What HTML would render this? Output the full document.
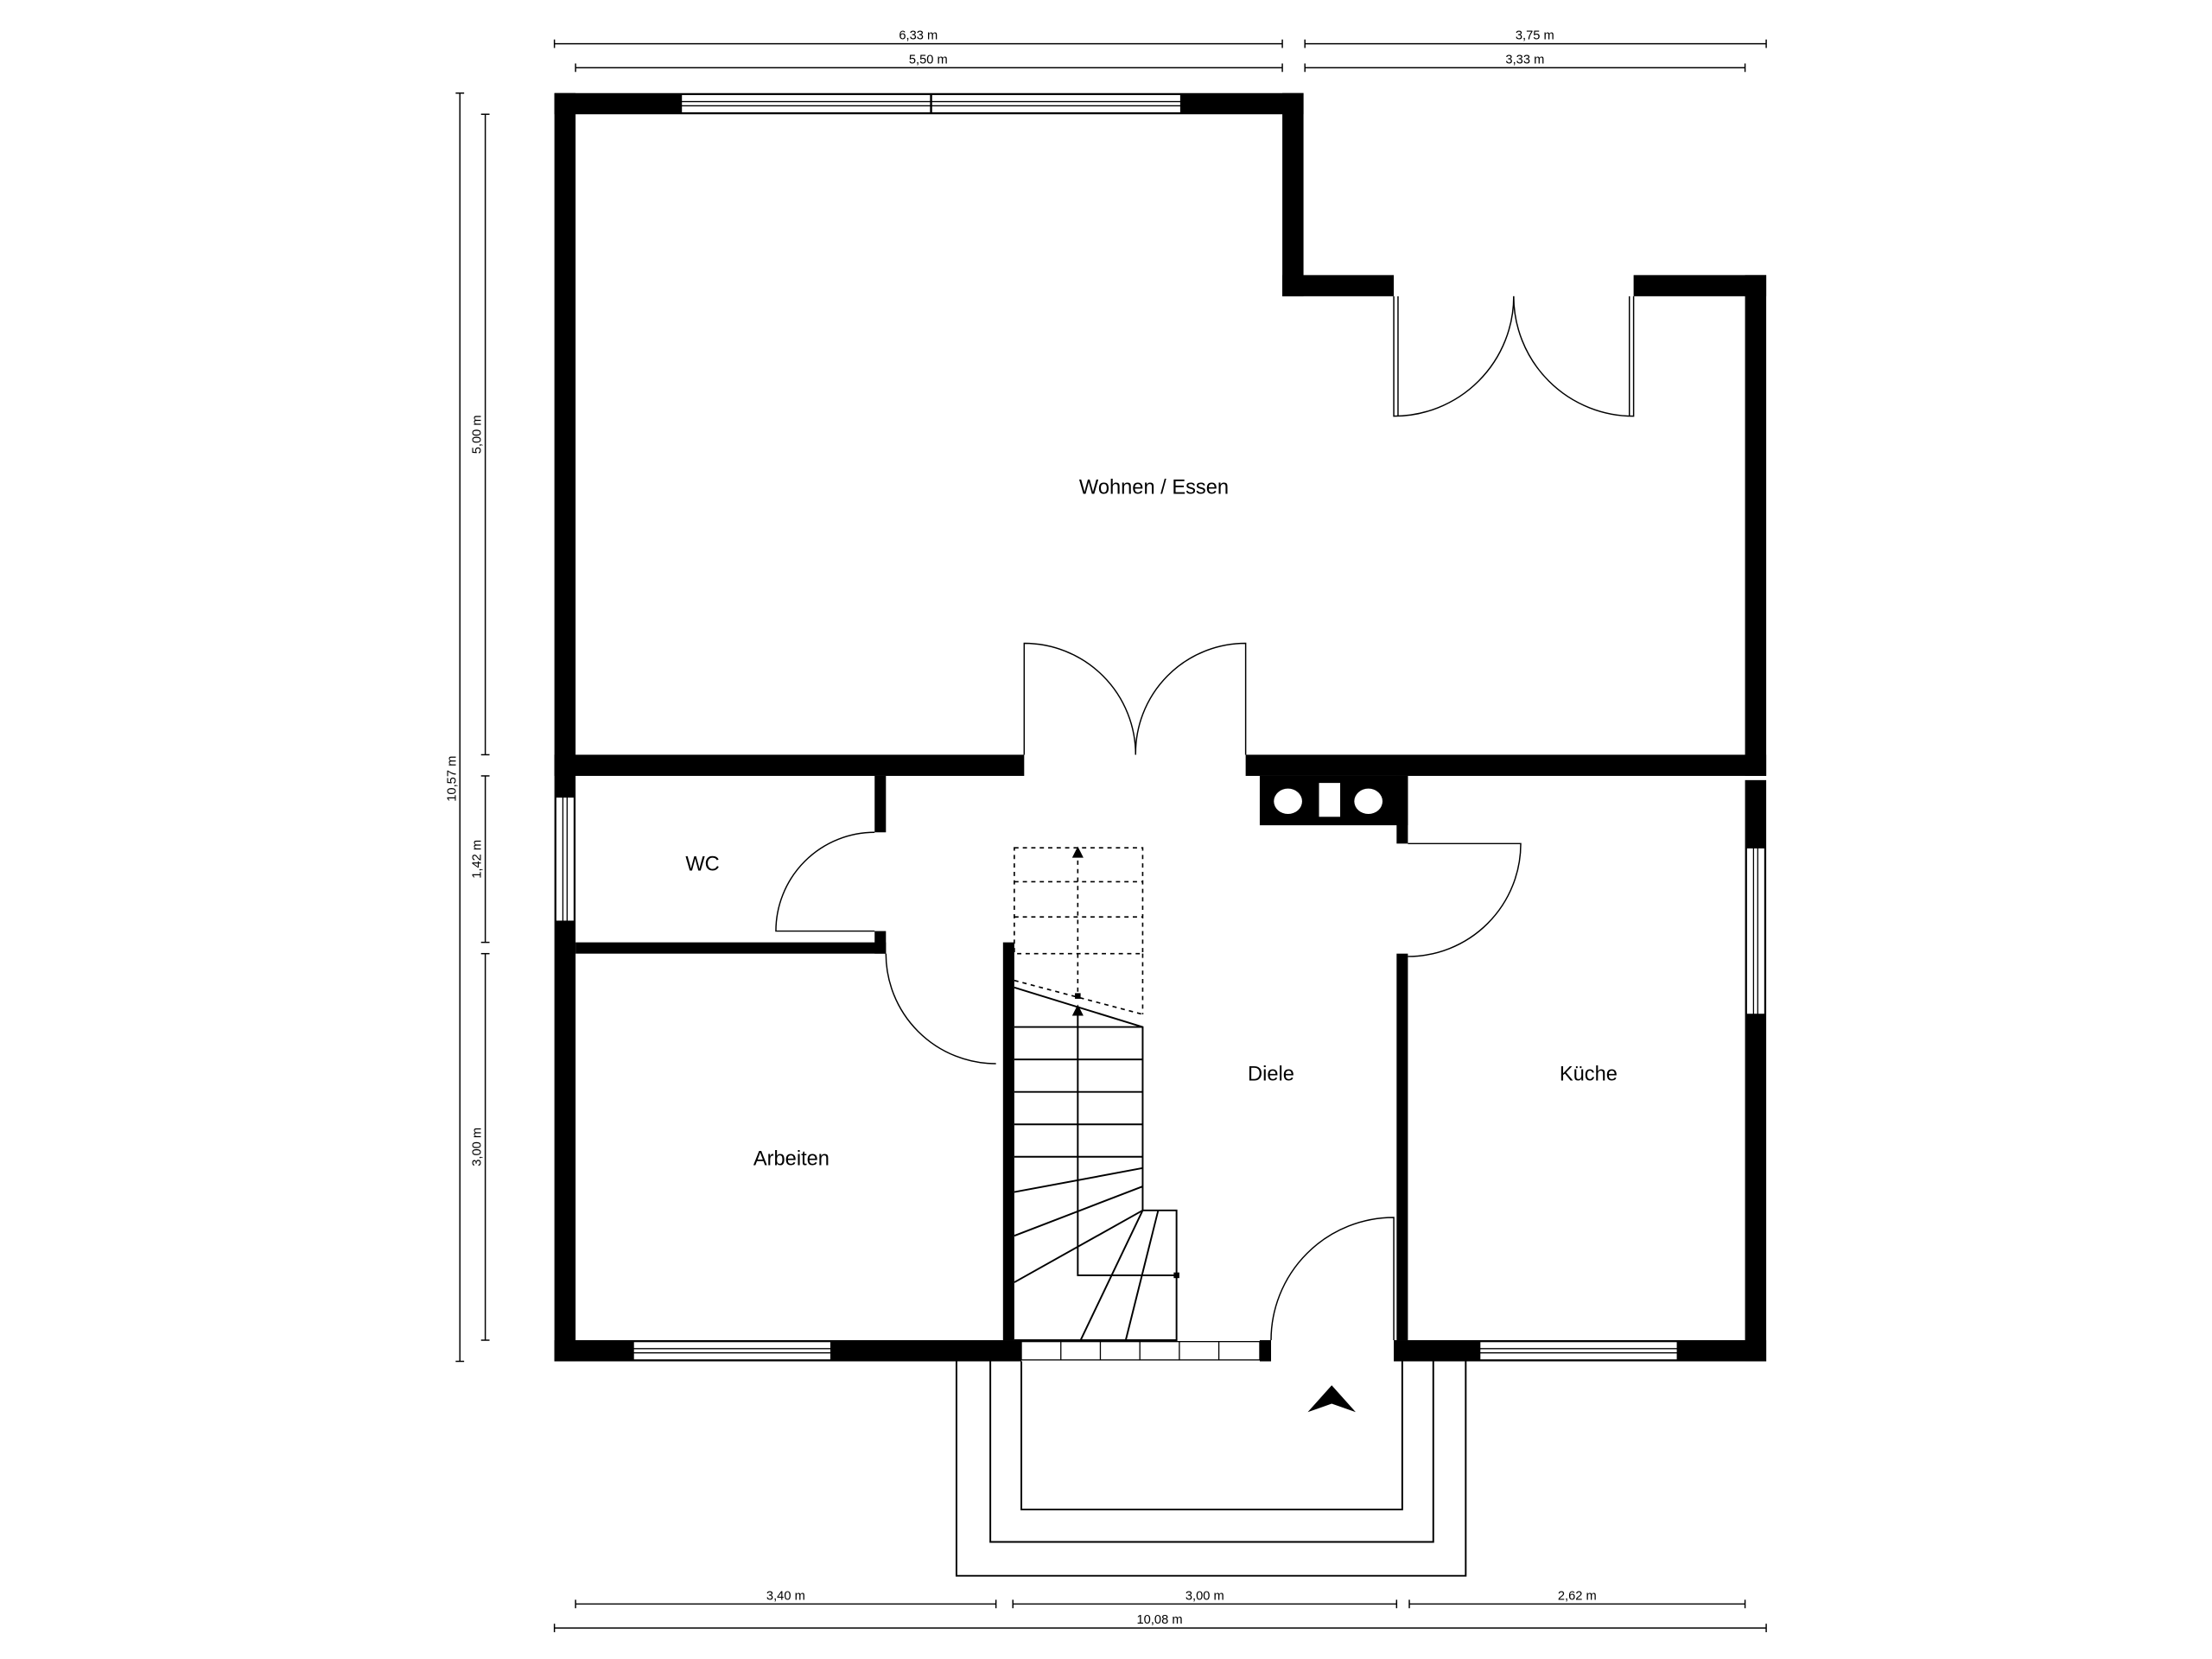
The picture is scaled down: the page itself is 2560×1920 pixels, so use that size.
<!DOCTYPE html>
<html><head><meta charset="utf-8"><style>
html,body{margin:0;padding:0;background:#fff;width:2560px;height:1920px;overflow:hidden}
svg{display:block}
text{font-family:"Liberation Sans",sans-serif;fill:#000}
</style></head><body>
<svg width="2560" height="1920" viewBox="0 0 1568 1176" xmlns="http://www.w3.org/2000/svg">
<rect width="1568" height="1176" fill="#fff"/>
<g fill="#000">
<!-- outer left wall -->
<rect x="393" y="66" width="15" height="899"/>
<!-- top wall -->
<rect x="393" y="66" width="531" height="15"/>
<rect x="909" y="66" width="15" height="144"/>
<rect x="909" y="195" width="79" height="15"/>
<rect x="1158" y="195" width="94" height="15"/>
<rect x="1237" y="195" width="15" height="355"/>
<rect x="1237" y="553" width="15" height="412"/>
<!-- middle wall -->
<rect x="393" y="535" width="333" height="15"/>
<rect x="883" y="535" width="369" height="15"/>
<!-- bottom wall -->
<rect x="393" y="950" width="331" height="15"/>
<rect x="893" y="950" width="8" height="15"/>
<rect x="988" y="950" width="264" height="15"/>
<!-- WC walls -->
<rect x="408" y="668" width="220" height="8"/>
<rect x="620" y="550" width="8" height="40"/>
<rect x="620" y="660" width="8" height="16"/>
<!-- stair wall -->
<rect x="711" y="668" width="8" height="282"/>
<!-- chimney -->
<rect x="893" y="550" width="105" height="35"/>
<rect x="990" y="550" width="8" height="48"/>
<rect x="990" y="676" width="8" height="274"/>
</g>
<!-- chimney holes -->
<ellipse cx="913" cy="568" rx="10" ry="9" fill="#fff"/>
<rect x="935" y="555" width="15" height="24" fill="#fff"/>
<ellipse cx="970" cy="568" rx="10" ry="9" fill="#fff"/>
<!-- windows -->
<g fill="#fff" stroke="#000" stroke-width="0.8">
<rect x="483" y="67" width="354" height="13"/>
<line x1="483" y1="72" x2="837" y2="72"/><line x1="483" y1="75" x2="837" y2="75"/>
<line x1="660" y1="67" x2="660" y2="80" stroke-width="1.5"/>
<rect x="394" y="565" width="13" height="88"/>
<line x1="399" y1="565" x2="399" y2="653"/><line x1="402" y1="565" x2="402" y2="653"/>
<rect x="1238" y="601" width="13" height="118"/>
<line x1="1243" y1="601" x2="1243" y2="719"/><line x1="1246" y1="601" x2="1246" y2="719"/>
<rect x="449" y="951" width="140" height="13"/>
<line x1="449" y1="956" x2="589" y2="956"/><line x1="449" y1="959" x2="589" y2="959"/>
<rect x="1049" y="951" width="140" height="13"/>
<line x1="1049" y1="956" x2="1189" y2="956"/><line x1="1049" y1="959" x2="1189" y2="959"/>
<rect x="724" y="951" width="169" height="13"/>
<line x1="752" y1="951" x2="752" y2="964"/><line x1="780" y1="951" x2="780" y2="964"/><line x1="808" y1="951" x2="808" y2="964"/><line x1="836" y1="951" x2="836" y2="964"/><line x1="864" y1="951" x2="864" y2="964"/>
</g>
<!-- doors -->
<g fill="none" stroke="#000" stroke-width="0.9">
<path d="M726 535 V456 A79 79 0 0 1 805 535"/>
<path d="M883 535 V456 A78 78 0 0 0 805 535"/>
<path d="M988 210 V295 A85 85 0 0 0 1073 210"/>
<path d="M991 210 V295"/>
<path d="M1158 210 V295 A85 85 0 0 1 1073 210"/>
<path d="M1155 210 V295"/>
<path d="M620 660 H550 A70 70 0 0 1 620 590"/>
<path d="M628 676 A78 78 0 0 0 706 754"/>
<path d="M998 598 H1078 A80 80 0 0 1 998 678"/>
<path d="M988 950 V863 A87 87 0 0 0 901 950"/>
</g>
<!-- stairs -->
<g fill="none" stroke="#000" stroke-width="1.2">
<path d="M719 700 L810 728 V858 H834 V950 H719"/>
<line x1="719" y1="728" x2="810" y2="728"/>
<line x1="719" y1="751" x2="810" y2="751"/>
<line x1="719" y1="774" x2="810" y2="774"/>
<line x1="719" y1="797" x2="810" y2="797"/>
<line x1="719" y1="820" x2="810" y2="820"/>
<line x1="719" y1="845" x2="810" y2="828"/>
<line x1="719" y1="876" x2="810" y2="841"/>
<line x1="719" y1="909" x2="810" y2="858"/>
<line x1="766" y1="950" x2="810" y2="858"/>
<line x1="798" y1="950" x2="821" y2="858"/>
<path d="M764 716 V904 H834"/>
</g>
<path d="M764 712 L760 720 H768 Z" fill="#000"/>
<rect x="832" y="902" width="4" height="4" fill="#000"/>
<g fill="none" stroke="#000" stroke-width="1" stroke-dasharray="3,3">
<rect x="719" y="601" width="91" height="75"/>
<line x1="719" y1="625" x2="810" y2="625"/>
<line x1="719" y1="650" x2="810" y2="650"/>
<line x1="764" y1="604" x2="764" y2="706"/>
<line x1="719" y1="695" x2="810" y2="719"/>
<line x1="810" y1="676" x2="810" y2="719"/>
</g>
<path d="M764 600 L760 608 H768 Z" fill="#000"/>
<rect x="762" y="704" width="4" height="4" fill="#000"/>
<!-- porch -->
<g fill="none" stroke="#000" stroke-width="1.2">
<path d="M678 965 V1117 H1039 V965"/>
<path d="M702 965 V1093 H1016 V965"/>
<path d="M724 965 V1070 H994 V965"/>
</g>
<path d="M944 982 L927 1001 L944 995 L961 1001 Z" fill="#000"/>
<!-- dimensions -->
<g stroke="#000" stroke-width="0.9" fill="none">
<line x1="393" y1="31" x2="909" y2="31"/><line x1="393" y1="28" x2="393" y2="34"/><line x1="909" y1="28" x2="909" y2="34"/>
<line x1="925" y1="31" x2="1252" y2="31"/><line x1="925" y1="28" x2="925" y2="34"/><line x1="1252" y1="28" x2="1252" y2="34"/>
<line x1="408" y1="48" x2="909" y2="48"/><line x1="408" y1="45" x2="408" y2="51"/><line x1="909" y1="45" x2="909" y2="51"/>
<line x1="925" y1="48" x2="1237" y2="48"/><line x1="925" y1="45" x2="925" y2="51"/><line x1="1237" y1="45" x2="1237" y2="51"/>
<line x1="326" y1="66" x2="326" y2="965"/><line x1="323" y1="66" x2="329" y2="66"/><line x1="323" y1="965" x2="329" y2="965"/>
<line x1="344" y1="81" x2="344" y2="535"/><line x1="341" y1="81" x2="347" y2="81"/><line x1="341" y1="535" x2="347" y2="535"/>
<line x1="344" y1="550" x2="344" y2="668"/><line x1="341" y1="550" x2="347" y2="550"/><line x1="341" y1="668" x2="347" y2="668"/>
<line x1="344" y1="676" x2="344" y2="950"/><line x1="341" y1="676" x2="347" y2="676"/><line x1="341" y1="950" x2="347" y2="950"/>
<line x1="408" y1="1137" x2="706" y2="1137"/><line x1="408" y1="1134" x2="408" y2="1140"/><line x1="706" y1="1134" x2="706" y2="1140"/>
<line x1="718" y1="1137" x2="990" y2="1137"/><line x1="718" y1="1134" x2="718" y2="1140"/><line x1="990" y1="1134" x2="990" y2="1140"/>
<line x1="999" y1="1137" x2="1237" y2="1137"/><line x1="999" y1="1134" x2="999" y2="1140"/><line x1="1237" y1="1134" x2="1237" y2="1140"/>
<line x1="393" y1="1154" x2="1252" y2="1154"/><line x1="393" y1="1151" x2="393" y2="1157"/><line x1="1252" y1="1151" x2="1252" y2="1157"/>
</g>
<g font-size="9" text-anchor="middle">
<text x="651" y="28">6,33 m</text>
<text x="1088" y="28">3,75 m</text>
<text x="658" y="45">5,50 m</text>
<text x="1081" y="45">3,33 m</text>
<text x="557" y="1134">3,40 m</text>
<text x="854" y="1134">3,00 m</text>
<text x="1118" y="1134">2,62 m</text>
<text x="822" y="1151">10,08 m</text>
<text transform="translate(323,552) rotate(-90)">10,57 m</text>
<text transform="translate(341,308) rotate(-90)">5,00 m</text>
<text transform="translate(341,609) rotate(-90)">1,42 m</text>
<text transform="translate(341,813) rotate(-90)">3,00 m</text>
</g>
<g font-size="14.5" text-anchor="middle">
<text x="818" y="350">Wohnen / Essen</text>
<text x="498" y="617">WC</text>
<text x="561" y="826">Arbeiten</text>
<text x="901" y="766">Diele</text>
<text x="1126" y="766">Küche</text>
</g>
</svg>
</body></html>
